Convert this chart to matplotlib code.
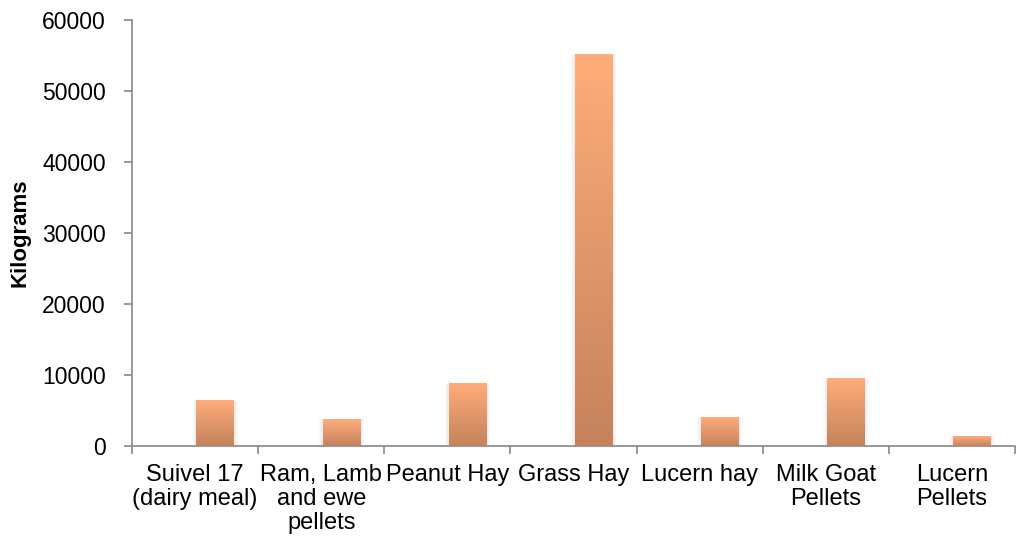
import numpy as np
import matplotlib.pyplot as plt
from matplotlib.colors import LinearSegmentedColormap

plt.rcParams['font.family'] = ['Liberation Sans', 'DejaVu Sans']

# feed types and amounts (kg)
categories = ['Suivel 17\n(dairy meal)', 'Ram, Lamb\nand ewe\npellets', 'Peanut Hay',
              'Grass Hay', 'Lucern hay', 'Milk Goat\nPellets', 'Lucern\nPellets']
kilograms = [6350, 3800, 8750, 55200, 4050, 9450, 1400]
yticks = [0, 10000, 20000, 30000, 40000, 50000, 60000]

fig = plt.figure(figsize=(10.16, 5.42), dpi=100)
ax = fig.add_axes([0.13, 0.177, 0.869, 0.786])

x = np.arange(len(categories))
offset = 0.16  # bars sit a little right of the category centre
bars = ax.bar(x + offset, kilograms, width=0.3, color='none', zorder=3)

# vertical gradient fill for each bar, light at top, darker at base
cmap = LinearSegmentedColormap.from_list('bar', ['#c4825c', '#ffad7a'])
grad = np.linspace(0, 1, 256).reshape(-1, 1)
for b in bars:
    x0, w, h = b.get_x(), b.get_width(), b.get_height()
    # soft shadow
    for k in range(3):
        ax.bar(x0 + w / 2, h, width=w + 0.02 * (k + 1), color='#000000', alpha=0.025,
               zorder=2, linewidth=0)
    ax.imshow(grad, cmap=cmap, aspect='auto', origin='lower',
              extent=[x0, x0 + w, 0, h], zorder=3, vmin=0, vmax=1)

ax.set_xlim(-0.5, len(categories) - 0.5)
ax.set_ylim(0, 60000)
ax.set_yticks(yticks)
ax.set_yticklabels([str(v) for v in yticks])

ax.set_xticks(x)
ax.set_xticklabels(categories, fontsize=17, linespacing=1.12)
ax.set_xticks(np.arange(-0.5, len(categories), 1), minor=True)
ax.tick_params(axis='x', which='major', length=0, pad=13)
ax.tick_params(axis='x', which='minor', length=6, color='#888888', width=1.2)
ax.tick_params(axis='y', labelsize=16.5, length=6, color='#888888', width=1.2, pad=13)

for s in ['top', 'right']:
    ax.spines[s].set_visible(False)
for s in ['left', 'bottom']:
    ax.spines[s].set_color('#888888')
    ax.spines[s].set_linewidth(1.2)

ax.set_ylabel('Kilograms', fontsize=16, fontweight='bold', labelpad=8)

fig.savefig('out.png', dpi=100)
